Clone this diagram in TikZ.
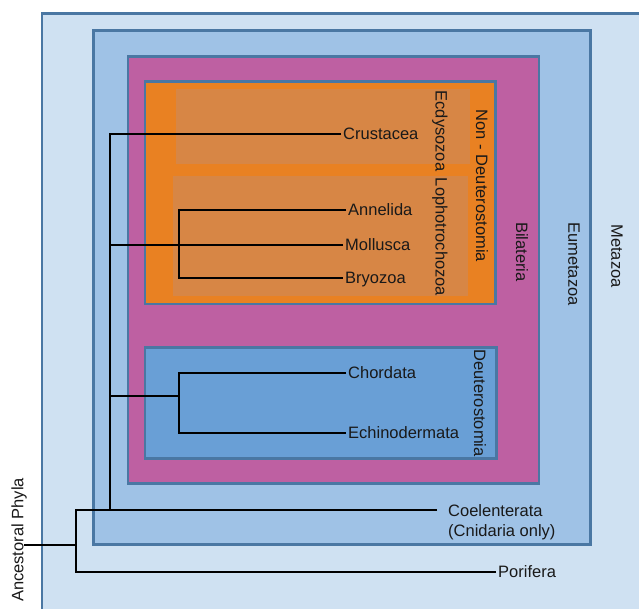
\documentclass[tikz,border=0pt]{standalone}
\usepackage{fontspec}
\setmainfont{Liberation Sans}
\definecolor{metaFill}{HTML}{CFE1F2}
\definecolor{eumeFill}{HTML}{9FC2E6}
\definecolor{bilaFill}{HTML}{BE60A2}
\definecolor{nonDFill}{HTML}{E98122}
\definecolor{subFill}{HTML}{D78645}
\definecolor{deutFill}{HTML}{699FD6}
\definecolor{edgeBlue}{HTML}{4A77A3}
\begin{document}
\begin{tikzpicture}[x=1pt, y=-1pt,
        frame/.style={draw=edgeBlue, line width=2.8pt},
        branch/.style={draw=black, line width=1.6pt},
        txt/.style={font=\fontsize{16.5}{20}\selectfont, text=black!90, inner sep=2pt},
        taxon/.style={txt, anchor=west, text height=11.8pt, text depth=0pt},
        clade/.style={txt, rotate=-90, inner sep=0pt}]
    \useasboundingbox (0,0) rectangle (639,609);
    \clip (0,0) rectangle (639,609);

    % nested clades
    \fill[white] (0,0) rectangle (639,609);
    \filldraw[frame, fill=metaFill] (42,13.5) rectangle (680,650);
    \filldraw[frame, fill=eumeFill] (93.7,30.5) rectangle (590.3,544.3);
    \filldraw[frame, fill=bilaFill] (128,56.2) rectangle (539,483.3);
    \filldraw[frame, fill=nonDFill] (145,81.8) rectangle (495.3,304);
    \fill[subFill] (176,89.3) rectangle (470,164);
    \fill[subFill] (173.3,175.7) rectangle (468,296);
    \filldraw[frame, fill=deutFill] (145,347.8) rectangle (496.3,458.7);

    \node[clade] (metazoa) at (617,256) {Metazoa};
    \node[clade] (eumetazoa) at (574,264) {Eumetazoa};
    \node[clade] (bilateria) at (522,252) {Bilateria};
    \node[clade] (nondeut) at (482,186) {Non - Deuterostomia};
    \node[clade] (ecdy) at (440,131) {Ecdysozoa};
    \node[clade] (lopho) at (440,237) {Lophotrochozoa};
    \node[clade] (deut) at (480,403) {Deuterostomia};
    \node[txt, rotate=90, inner sep=0pt] (ancestral) at (19,540) {Ancestoral Phyla};

    % tree
    \coordinate (root) at (24,545);
    \coordinate (metJ) at (76,545);
    \coordinate (eumJ) at (110,510);
    \coordinate (lopJ) at (179,245);
    \coordinate (deuJ) at (179,396);

    \node[taxon] (crus) at (341,134) {Crustacea};
    \node[taxon] (anne) at (346,210) {Annelida};
    \node[taxon] (moll) at (343,245) {Mollusca};
    \node[taxon] (bryo) at (343,278) {Bryozoa};
    \node[taxon] (chor) at (346,373) {Chordata};
    \node[taxon] (echi) at (346,433) {Echinodermata};
    \node[taxon] (pori) at (496,572) {Porifera};
    \node[txt, anchor=north west, align=left, inner xsep=11pt] (coel) at (437,502)
        {Coelenterata\\(Cnidaria only)};

    \draw[branch] (crus.west) -| (eumJ);
    \draw[branch] (moll.west) -- (moll.west -| eumJ);
    \draw[branch] (anne.west) -| (lopJ) |- (bryo.west);
    \draw[branch] (chor.west) -| (deuJ) |- (echi.west);
    \draw[branch] (deuJ) -- (deuJ -| eumJ);
    \draw[branch] (coel.west |- eumJ) -| (metJ);
    \draw[branch] (pori.west) -| (metJ);
    \draw[branch] (root) -- (metJ);
\end{tikzpicture}
\end{document}
